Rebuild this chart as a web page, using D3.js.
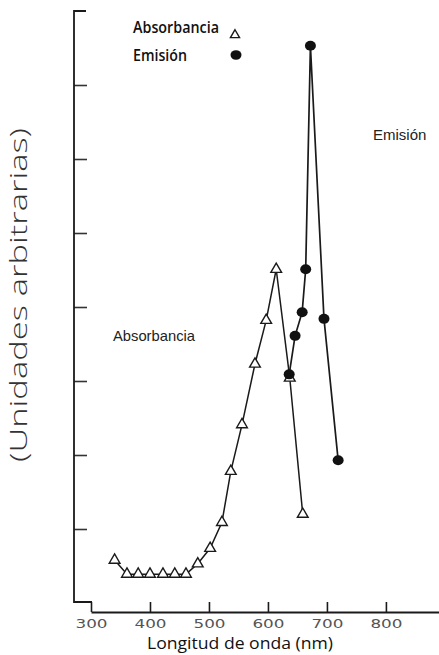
<!DOCTYPE html>
<html><head><meta charset="utf-8">
<script src="https://cdn.jsdelivr.net/npm/d3@7"></script>
<style>body{margin:0;background:#fff}svg{display:block}</style>
</head><body>
<svg id="c" width="439" height="655"></svg>
<script>
// Data
const absWavelength = [340,361,380,400,422,442,461,481,502,522,537,556,578,597,614,637,659];
const absValue      = [0.58,0.39,0.39,0.39,0.39,0.39,0.39,0.53,0.74,1.09,1.78,2.41,3.23,3.82,4.51,3.04,1.20];
const emWavelength  = [636,646,658,664,672,695,719];
const emValue       = [3.09,3.61,3.93,4.51,7.53,3.84,1.93];
const xTickValues   = [300,400,500,600,700,800];
const yTickValues   = [1,2,3,4,5,6,7];
const legendLabels  = ["Absorbancia","Emisión"];

const svg = d3.select("#c");
const x = d3.scaleLinear().domain([300,890]).range([91,439]);
const y = d3.scaleLinear().domain([0,8]).range([603,11]);
const ink = "#1a1a1a";

// Y axis (ticks inward, caps at ends)
const yAxisX = 74;
const yAxis = d3.axisRight(y).tickValues(yTickValues).tickSizeInner(13).tickSizeOuter(0).tickFormat("");
const gy = svg.append("g").attr("transform",`translate(${yAxisX},0)`).call(yAxis);
gy.select(".domain").remove();
gy.selectAll(".tick line").attr("stroke","#333").attr("stroke-width",1.6);
svg.append("path")
  .attr("d",`M${yAxisX+12},${y(8)}H${yAxisX}V${y(0)-1}H${x(300)+1}`)
  .attr("fill","none").attr("stroke",ink).attr("stroke-width",1.8);

// X axis (ticks upward, labels below)
const xAxisY = 612;
const xAxis = d3.axisBottom(x).tickValues(xTickValues).tickSizeInner(-10).tickSizeOuter(0).tickPadding(7);
const gx = svg.append("g").attr("transform",`translate(0,${xAxisY})`).call(xAxis);
gx.select(".domain").attr("stroke",ink).attr("stroke-width",1.8);
gx.selectAll(".tick line").attr("stroke",ink).attr("stroke-width",1.6);
gx.selectAll(".tick text")
  .attr("font-family","DejaVu Sans").attr("font-size",12).attr("fill","#555")
  .attr("textLength",32).attr("lengthAdjust","spacingAndGlyphs")
  .attr("dy","0.71em");

// Lines
const line = d3.line().x(d=>x(d[0])).y(d=>y(d[1]));
const absData = d3.zip(absWavelength, absValue);
const emData = d3.zip(emWavelength, emValue);
svg.append("path").datum(absData).attr("d",line)
  .attr("fill","none").attr("stroke",ink).attr("stroke-width",1.5);
svg.append("path").datum(emData).attr("d",line)
  .attr("fill","none").attr("stroke",ink).attr("stroke-width",1.7);

// Markers
const tri = d3.symbol().type(d3.symbolTriangle).size(50);
svg.append("g").selectAll("path").data(absData).join("path")
  .attr("d",tri).attr("transform",d=>`translate(${x(d[0])},${y(d[1])})`)
  .attr("fill","#fff").attr("stroke",ink).attr("stroke-width",1.4);
svg.append("g").selectAll("ellipse").data(emData).join("ellipse")
  .attr("cx",d=>x(d[0])).attr("cy",d=>y(d[1])).attr("rx",5.5).attr("ry",5)
  .attr("fill","#111");

// Legend
svg.append("text").attr("x",133).attr("y",33).text(legendLabels[0])
  .attr("font-family","Open Sans").attr("font-size",16).attr("font-weight",600)
  .attr("textLength",86).attr("lengthAdjust","spacingAndGlyphs").attr("fill","#111");
svg.append("text").attr("x",133).attr("y",61).text(legendLabels[1])
  .attr("font-family","Open Sans").attr("font-size",16).attr("font-weight",600)
  .attr("textLength",54).attr("lengthAdjust","spacingAndGlyphs").attr("fill","#111");
svg.append("path").attr("d",d3.symbol().type(d3.symbolTriangle).size(36)())
  .attr("transform","translate(235,35)").attr("fill","#fff").attr("stroke",ink).attr("stroke-width",1.4);
svg.append("ellipse").attr("cx",236).attr("cy",55).attr("rx",5.5).attr("ry",4.8).attr("fill","#111");

// Annotations
svg.append("text").attr("x",373).attr("y",140).text("Emisión")
  .attr("font-family","Liberation Sans").attr("font-size",15).attr("fill","#222");
svg.append("text").attr("x",113).attr("y",341).text("Absorbancia")
  .attr("font-family","Liberation Sans").attr("font-size",15).attr("fill","#222")
  .attr("textLength",82).attr("lengthAdjust","spacingAndGlyphs");

// Axis titles
svg.append("text").attr("x",240).attr("y",649).attr("text-anchor","middle")
  .text("Longitud de onda (nm)")
  .attr("font-family","Open Sans").attr("font-size",16).attr("fill","#111")
  .attr("textLength",186).attr("lengthAdjust","spacingAndGlyphs");
svg.append("text").attr("transform","translate(27,295) rotate(-90)").attr("text-anchor","middle")
  .text("(Unidades arbitrarias)")
  .attr("font-family","Open Sans").attr("font-size",23).attr("font-weight",300).attr("fill","#333")
  .attr("textLength",334).attr("lengthAdjust","spacingAndGlyphs");
</script>
</body></html>
